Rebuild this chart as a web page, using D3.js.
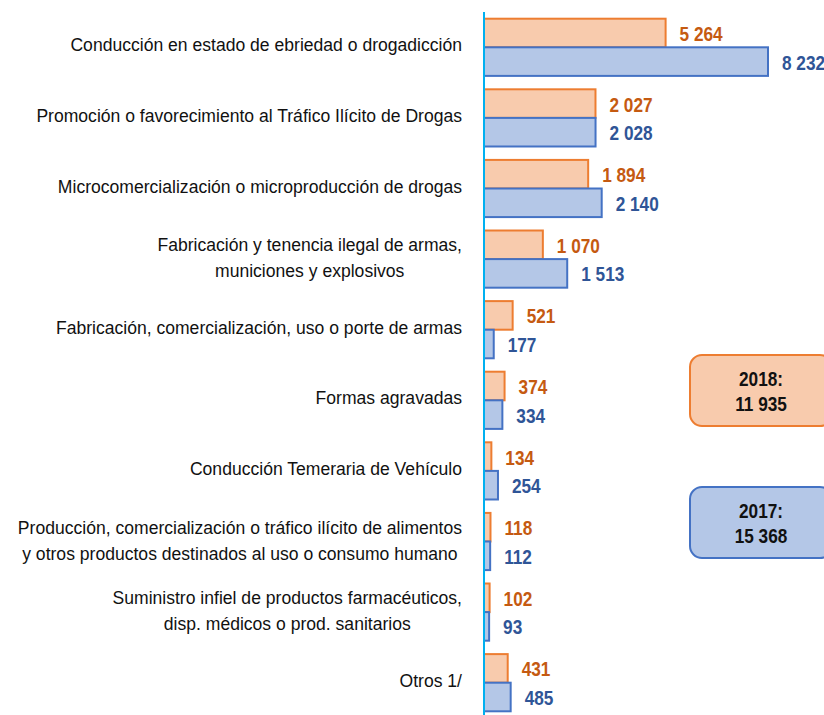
<!DOCTYPE html>
<meta charset="utf-8">
<script src="https://d3js.org/d3.v7.min.js"></script>
<style>
  body { margin: 0; background: #fff; }
  text { font-family: "Liberation Sans Narrow", "Arial Narrow", "Liberation Sans", Arial, sans-serif; }
</style>
<body>
<div id="chart"></div>
<script>
  // data
  var categories = [
    ["Conducción en estado de ebriedad o drogadicción"],
    ["Promoción o favorecimiento al Tráfico Ilícito de Drogas"],
    ["Microcomercialización o microproducción  de drogas"],
    ["Fabricación y tenencia ilegal de armas,", "municiones y explosivos"],
    ["Fabricación, comercialización, uso o porte de armas"],
    ["Formas agravadas"],
    ["Conducción Temeraria de Vehículo"],
    ["Producción, comercialización o tráfico ilícito de alimentos", "y otros productos destinados al uso o consumo humano"],
    ["Suministro infiel de productos farmacéuticos,", "disp. médicos o prod. sanitarios"],
    ["Otros 1/"]
  ];
  var values2018 = [5264, 2027, 1894, 1070, 521, 374, 134, 118, 102, 431];
  var values2017 = [8232, 2028, 2140, 1513, 177, 334, 254, 112, 93, 485];
  var series = ["2018", "2017"];
  var totals = {"2018": "11 935", "2017": "15 368"};

  var fills = {"2018": "#F8CBAD", "2017": "#B4C7E7"};
  var strokes = {"2018": "#ED7D31", "2017": "#4472C4"};
  var textCol = {"2018": "#C55A11", "2017": "#2F5597"};

  var width = 824, height = 715, x0 = 484;
  var squeeze = 0.82;     // fake a narrow font for the numbers
  var labSqueeze = 0.95;  // and for the category labels

  var svg = d3.select("#chart").append("svg")
      .attr("width", width)
      .attr("height", height);

  var rows = categories.map(function(c, i) {
    return {i: i, label: c, "2018": values2018[i], "2017": values2017[i]};
  });

  // y scales
  var y = d3.scaleBand()
      .domain(d3.range(categories.length))
      .range([12, 718])
      .paddingInner(0.19)
      .paddingOuter(0.095);
  var ySub = d3.scaleBand()
      .domain(series)
      .range([0, y.bandwidth()]);

  // x scales: the top row is drawn on a compressed (broken) scale
  var x = d3.scaleLinear().domain([0, 2200]).range([0, 121]);
  var xTop = d3.scaleLinear().domain([0, 8232]).range([0, 284]);
  function len(d, s) { return d.i === 0 ? xTop(d[s]) : x(d[s]); }

  var fmt = function(v) { return d3.format(",")(v).replace(/,/g, " "); };

  var groups = svg.selectAll(".row")
      .data(rows)
      .enter().append("g")
      .attr("class", "row")
      .attr("transform", function(d) { return "translate(0," + y(d.i) + ")"; });

  series.forEach(function(s) {
    groups.append("rect")
        .attr("x", x0)
        .attr("y", ySub(s))
        .attr("width", function(d) { return len(d, s); })
        .attr("height", ySub.bandwidth())
        .style("fill", fills[s])
        .style("stroke", strokes[s])
        .style("stroke-width", 2);

    groups.append("text")
        .attr("transform", function(d) {
          return "translate(" + (x0 + len(d, s) + 14) + "," + (ySub(s) + ySub.bandwidth() / 2) + ") scale(" + squeeze + ",1)";
        })
        .attr("dy", "0.38em")
        .style("font-size", "21px")
        .style("font-weight", "bold")
        .style("fill", textCol[s])
        .text(function(d) { return fmt(d[s]); });
  });

  // category labels
  function catText(g, tx, ty, anchor, str) {
    return g.append("text")
        .attr("transform", "translate(" + tx + "," + ty + ") scale(" + labSqueeze + ",1)")
        .attr("text-anchor", anchor)
        .style("font-size", "18.5px")
        .style("fill", "#111")
        .text(str);
  }
  groups.each(function(d) {
    var g = d3.select(this);
    var mid = y.bandwidth() / 2;
    if (d.label.length === 1) {
      catText(g, 462, mid + 4, "end", d.label[0]);
    } else {
      var t1 = catText(g, 462, mid - 8, "end", d.label[0]);
      var w1 = t1.node().getComputedTextLength() * labSqueeze;
      catText(g, 462 - w1 / 2, mid + 18, "middle", d.label[1]);
    }
  });

  // axis line
  svg.append("line")
      .attr("x1", x0).attr("x2", x0)
      .attr("y1", 12).attr("y2", height)
      .style("stroke", "#00B0F0")
      .style("stroke-width", 2);

  // total boxes
  var boxY = {"2018": 355, "2017": 487};
  series.forEach(function(s) {
    var b = svg.append("g").attr("transform", "translate(690," + boxY[s] + ")");
    b.append("rect")
        .attr("width", 142)
        .attr("height", 71)
        .attr("rx", 12)
        .style("fill", fills[s])
        .style("stroke", strokes[s])
        .style("stroke-width", 2);
    [s + ":", totals[s]].forEach(function(t, k) {
      b.append("text")
          .attr("transform", "translate(71," + (31 + k * 25) + ") scale(" + squeeze + ",1)")
          .attr("text-anchor", "middle")
          .style("font-size", "21px")
          .style("font-weight", "bold")
          .style("fill", "#111")
          .text(t);
    });
  });
</script>
</body>
